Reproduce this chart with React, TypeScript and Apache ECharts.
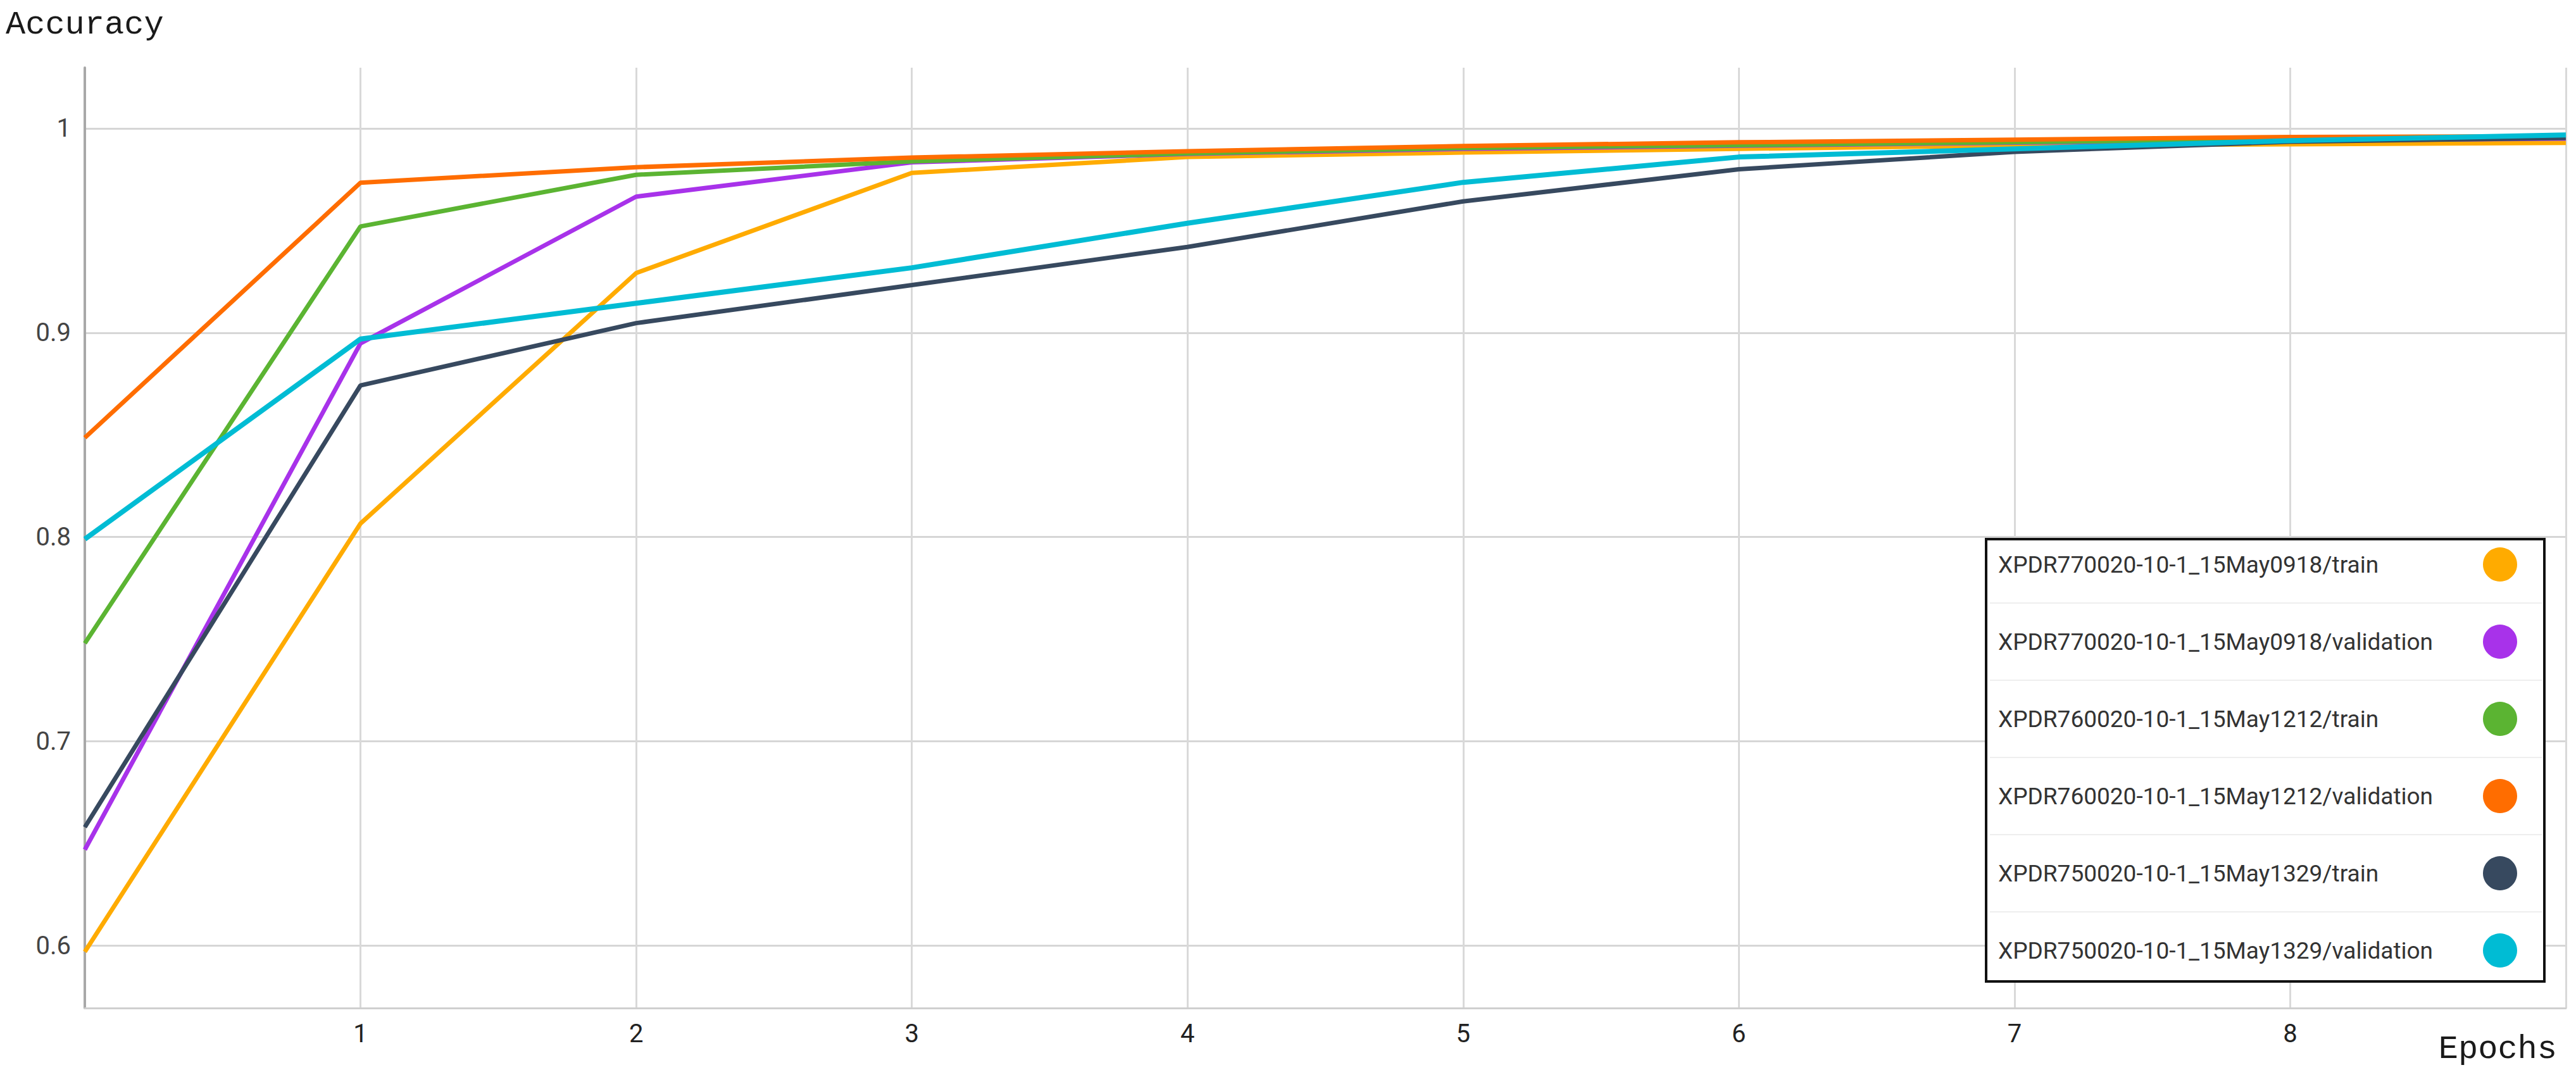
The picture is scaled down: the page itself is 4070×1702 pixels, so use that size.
import React, { useEffect, useRef } from "react";
import * as echarts from "echarts";

const epochs = [0, 1, 2, 3, 4, 5, 6, 7, 8, 9];

const seriesNames = [
  "XPDR770020-10-1_15May0918/train",
  "XPDR770020-10-1_15May0918/validation",
  "XPDR760020-10-1_15May1212/train",
  "XPDR760020-10-1_15May1212/validation",
  "XPDR750020-10-1_15May1329/train",
  "XPDR750020-10-1_15May1329/validation",
];

const seriesColors = ["#FFAB00", "#A832EA", "#5BB432", "#FF6D00", "#37495F", "#00BCD4"];

const train770 = [0.597, 0.8066, 0.9292, 0.9782, 0.986, 0.9882, 0.99, 0.9916, 0.9922, 0.9929];
const val770 = [0.647, 0.8948, 0.9666, 0.9834, 0.9875, 0.99, 0.9915, 0.993, 0.994, 0.995];
const train760 = [0.748, 0.952, 0.9773, 0.9839, 0.9877, 0.9904, 0.9918, 0.9932, 0.9948, 0.9955];
const val760 = [0.8486, 0.9734, 0.981, 0.9857, 0.9888, 0.9914, 0.9932, 0.9945, 0.9958, 0.9962];
const train750 = [0.658, 0.8742, 0.9047, 0.9233, 0.942, 0.9643, 0.98, 0.9885, 0.9935, 0.9953];
const val750 = [0.799, 0.8969, 0.9144, 0.9318, 0.9536, 0.9736, 0.986, 0.99, 0.994, 0.9968];

const seriesValues = [train770, val770, train760, val760, train750, val750];

const yMin = 0.5695;
const yMax = 1.0297;
const xMin = 0;
const xMax = 9;

// legend geometry (decoration)
const LEG_LEFT = 3138;
const LEG_TOP = 852;
const LEG_PAD_TOP = 13;
const ITEM_H = 54;
const ITEM_GAP = 68;

export default function App() {
  const ref = useRef<HTMLDivElement>(null);

  useEffect(() => {
    if (!ref.current) return;
    const chart = echarts.init(ref.current, undefined, { renderer: "svg" });

    const series = seriesNames.map((name, i) => ({
      name,
      type: "line",
      data: epochs.map((e, j) => [e, seriesValues[i][j]]),
      showSymbol: false,
      symbol: "none",
      lineStyle: { width: i === 5 ? 8 : 7, color: seriesColors[i] },
      itemStyle: { color: seriesColors[i] },
      z: 2 + i,
    }));

    const separators = seriesNames.slice(1).map((_, i) => {
      const y = LEG_TOP + LEG_PAD_TOP + (i + 1) * (ITEM_H + ITEM_GAP) - ITEM_GAP / 2;
      return {
        type: "line",
        z: 100,
        shape: { x1: LEG_LEFT + 6, y1: y, x2: LEG_LEFT + 878, y2: y },
        style: { stroke: "#eeeeee", lineWidth: 2 },
      };
    });

    chart.setOption({
      animation: false,
      backgroundColor: "#ffffff",
      title: [
        {
          text: "Accuracy",
          left: 9,
          top: 13,
          padding: 0,
          textStyle: {
            fontFamily: "'Courier New', 'Liberation Mono', monospace",
            fontSize: 52,
            fontWeight: "normal",
            color: "#1a1a1a",
            lineHeight: 52,
          },
        },
        {
          text: "Epochs",
          right: 30,
          top: 1632,
          padding: 0,
          textStyle: {
            fontFamily: "'Courier New', 'Liberation Mono', monospace",
            fontSize: 52,
            fontWeight: "normal",
            color: "#1a1a1a",
            lineHeight: 52,
          },
        },
      ],
      grid: { left: 134, right: 16, top: 107, bottom: 109, containLabel: false },
      xAxis: {
        type: "value",
        min: xMin,
        max: xMax,
        interval: 1,
        axisLine: { show: true, onZero: false, lineStyle: { color: "#cfcfcf", width: 3 } },
        axisTick: { show: false },
        axisLabel: {
          showMinLabel: false,
          showMaxLabel: false,
          margin: 20,
          fontFamily: "Roboto",
          fontSize: 40,
          color: "#222",
        },
        splitLine: { show: true, lineStyle: { color: "#d9d9d9", width: 3 } },
      },
      yAxis: {
        type: "value",
        min: yMin,
        max: yMax,
        splitNumber: 5,
        axisLine: { show: true, lineStyle: { color: "#a8a8a8", width: 4 } },
        axisTick: { show: false },
        axisLabel: {
          showMinLabel: false,
          showMaxLabel: false,
          margin: 22,
          fontFamily: "Roboto",
          fontSize: 40,
          color: "#444",
        },
        splitLine: {
          show: true,
          showMinLine: false,
          showMaxLine: false,
          lineStyle: { color: "#d6d6d6", width: 3 },
        },
      },
      legend: {
        orient: "vertical",
        align: "right",
        left: LEG_LEFT,
        top: LEG_TOP,
        padding: [LEG_PAD_TOP, 43, 22, 19],
        itemGap: ITEM_GAP,
        itemWidth: ITEM_H,
        itemHeight: ITEM_H,
        icon: "circle",
        borderColor: "#111",
        borderWidth: 4,
        backgroundColor: "#ffffff",
        data: seriesNames,
        formatter: (n: string) => `{a|${n}}`,
        textStyle: {
          fontFamily: "Roboto",
          fontSize: 37,
          color: "#333",
          rich: {
            a: { width: 761, align: "left", fontFamily: "Roboto", fontSize: 37, color: "#333" },
          },
        },
      },
      graphic: separators,
      series,
    });

    return () => chart.dispose();
  }, []);

  return (
    <div
      ref={ref}
      style={{ position: "fixed", left: 0, top: 0, width: 4070, height: 1702 }}
    />
  );
}
